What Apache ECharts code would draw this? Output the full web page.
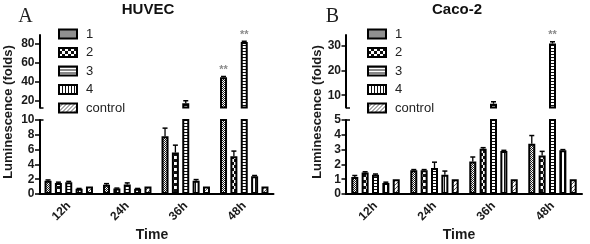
<!DOCTYPE html>
<html><head><meta charset="utf-8">
<script src="https://cdn.jsdelivr.net/npm/echarts@6/dist/echarts.min.js"></script>
<style>html,body{margin:0;padding:0;background:#fff}#c{width:590px;height:244px}</style>
</head><body><div id="c"></div>
<script>
// ---------- data ----------
const categories = ['12h', '24h', '36h', '48h'];
const seriesNames = ['1', '2', '3', '4', 'control'];

// Panel A: HUVEC
const huvec1 = [1.8, 1.25, 7.8, 45];
const huvec2 = [1.5, 0.75, 5.6, 5.1];
const huvec3 = [1.6, 1.3, 17.5, 82];
const huvec4 = [0.7, 0.7, 1.8, 2.4];
const huvecCtrl = [1.0, 1.0, 1.0, 1.0];
const huvecErr1 = [0.1, 0.15, 1.1, 0.8];
const huvecErr2 = [0.1, 0.05, 1.0, 0.7];
const huvecErr3 = [0.1, 0.2, 2.5, 1.0];
const huvecErr4 = [0.05, 0.05, 0.15, 0.1];
const huvecErrCtrl = [0, 0, 0, 0];
const huvecStars = [[3, 0, '**'], [3, 2, '**']]; // [category index, series index, mark]
const huvecUpperTicks = [20, 40, 60, 80];

// Panel B: Caco-2
const caco1 = [1.15, 1.6, 2.2, 3.4];
const caco2 = [1.45, 1.6, 3.05, 2.6];
const caco3 = [1.3, 1.75, 6.5, 31];
const caco4 = [0.75, 1.3, 2.9, 2.95];
const cacoCtrl = [1.0, 1.0, 1.0, 1.0];
const cacoErr1 = [0.1, 0.05, 0.3, 0.55];
const cacoErr2 = [0.05, 0.05, 0.08, 0.28];
const cacoErr3 = [0.05, 0.4, 0.8, 0.8];
const cacoErr4 = [0.05, 0.25, 0.05, 0.05];
const cacoErrCtrl = [0, 0, 0, 0];
const cacoStars = [[3, 2, '**']];
const cacoUpperTicks = [10, 20, 30];

// ---------- styling ----------
const FONT = '"Liberation Sans", Arial, sans-serif';
const SERIF = '"Liberation Serif", "Times New Roman", serif';
const BAR_W = 7;
const BAR_GAP = 0.48;
const PITCH = BAR_W * (1 + BAR_GAP);

function pat(w, h, draw) {
  const c = document.createElement('canvas');
  c.width = w; c.height = h;
  const g = c.getContext('2d');
  g.fillStyle = '#fff'; g.fillRect(0, 0, w, h);
  draw(g);
  return { image: c, repeat: 'repeat' };
}
const patterns = [
  pat(2, 2, g => { g.fillStyle = '#222'; g.fillRect(0, 0, 1, 1); g.fillRect(1, 1, 1, 1); }),
  pat(6, 6, g => { g.fillStyle = '#111'; g.fillRect(0, 0, 6, 6); g.fillStyle = '#fff'; g.fillRect(0, 0, 3, 3); g.fillRect(3, 3, 3, 3); }),
  pat(1, 3, g => { g.fillStyle = '#111'; g.fillRect(0, 0, 1, 1); }),
  pat(3, 1, g => { g.fillStyle = '#111'; g.fillRect(0, 0, 1, 1); }),
  pat(4, 4, g => { g.fillStyle = '#555'; for (let i = 0; i < 4; i++) g.fillRect(i, 3 - i, 1, 1); })
];

const grids = [], xAxes = [], yAxes = [], series = [], legends = [], graphics = [];
const axisLineStyle = { color: '#000', width: 2 };
const tickStyle = { color: '#000', width: 1.5 };
const labelStyle = { fontSize: 12, fontWeight: 'bold', color: '#1a1a1a', fontFamily: FONT };

function errorSeries(xi, yi, values, errors, clip) {
  const data = [];
  values.forEach((arr, si) => arr.forEach((v, ci) => data.push([ci, si, v, errors[si][ci]])));
  return {
    type: 'custom', xAxisIndex: xi, yAxisIndex: yi, clip: clip, silent: true, animation: false,
    encode: { x: 0, y: 2 }, z: 5,
    data: data,
    renderItem: function (params, api) {
      const ci = api.value(0), si = api.value(1), v = api.value(2), e = api.value(3);
      if (!e) return null;
      const base = api.coord([ci, v]);
      const top = api.coord([ci, v + e]);
      const x = base[0] + (si - 2) * PITCH;
      return {
        type: 'group', children: [
          { type: 'line', shape: { x1: x, y1: base[1], x2: x, y2: top[1] }, style: { stroke: '#000', lineWidth: 1.3 } },
          { type: 'line', shape: { x1: x - 2.5, y1: top[1], x2: x + 2.5, y2: top[1] }, style: { stroke: '#000', lineWidth: 1.5 } }
        ]
      };
    }
  };
}

function addPanel(P) {
  const g = grids.length;
  grids.push({ left: P.left, width: P.width, top: 120, height: 74 });
  grids.push({ left: P.left, width: P.width, top: 35, height: 72.5 });
  const xi = xAxes.length;
  xAxes.push({
    type: 'category', data: categories, gridIndex: g,
    axisLine: { lineStyle: axisLineStyle },
    axisTick: { alignWithLabel: true, length: 5, lineStyle: tickStyle },
    axisLabel: Object.assign({ rotate: 45, margin: 10 }, labelStyle)
  });
  xAxes.push({ type: 'category', data: categories, gridIndex: g + 1, show: false });
  const yi = yAxes.length;
  yAxes.push({
    type: 'value', gridIndex: g, position: 'left', min: 0, max: P.lowerMax, interval: P.lowerInterval,
    axisLine: { show: true, lineStyle: axisLineStyle },
    axisTick: { show: true, length: 4.5, lineStyle: tickStyle },
    axisLabel: Object.assign({ margin: 5 }, labelStyle),
    splitLine: { show: false }
  });
  yAxes.push({
    type: 'value', gridIndex: g + 1, position: 'left', min: P.upperMin, max: P.upperMax,
    axisLine: { show: true, lineStyle: axisLineStyle },
    axisTick: { show: true, length: 4.5, lineStyle: tickStyle, customValues: P.upperTicks },
    axisLabel: Object.assign({ margin: 5, customValues: P.upperTicks }, labelStyle),
    splitLine: { show: false }
  });
  // break marks
  yAxes.push({
    type: 'value', gridIndex: g, position: 'left', offset: 0, min: 0, max: P.lowerMax,
    axisLine: { show: false }, axisLabel: { show: false }, splitLine: { show: false },
    axisTick: { show: true, inside: true, length: 4, lineStyle: tickStyle, customValues: [P.lowerMax] }
  });
  yAxes.push({
    type: 'value', gridIndex: g + 1, position: 'left', offset: 0, min: P.upperMin, max: P.upperMax,
    axisLine: { show: false }, axisLabel: { show: false }, splitLine: { show: false },
    axisTick: { show: true, inside: true, length: 4, lineStyle: tickStyle, customValues: [P.upperMin] }
  });

  P.values.forEach((arr, i) => {
    const common = {
      type: 'bar', name: seriesNames[i], barWidth: BAR_W, barGap: (BAR_GAP * 100) + '%',
      itemStyle: { color: patterns[i], borderColor: '#000', borderWidth: 2 },
      clip: true, animation: false, silent: true
    };
    series.push(Object.assign({}, common, { xAxisIndex: xi, yAxisIndex: yi, data: arr }));
    series.push(Object.assign({}, common, {
      xAxisIndex: xi + 1, yAxisIndex: yi + 1,
      data: arr.map(v => (v > P.upperMin ? v : '-'))
    }));
  });
  series.push(errorSeries(xi, yi, P.values, P.errors, true));
  series.push(errorSeries(xi + 1, yi + 1, P.values, P.errors, true));
  // significance stars
  series.push({
    type: 'custom', xAxisIndex: xi + 1, yAxisIndex: yi + 1, clip: false, silent: true, animation: false,
    encode: { x: 0, y: 1 }, z: 6,
    data: P.stars.map(s => [s[0], P.values[s[1]][s[0]] + P.errors[s[1]][s[0]], s[1], s[2]]),
    renderItem: function (params, api) {
      const p = api.coord([api.value(0), api.value(1)]);
      const x = p[0] + (api.value(2) - 2) * PITCH;
      return {
        type: 'text', x: x, y: p[1] - 1,
        style: { text: P.stars[params.dataIndex][2], fill: '#8a8a8a', font: 'bold 11px ' + FONT, textAlign: 'center', textVerticalAlign: 'bottom' }
      };
    }
  });

  legends.push({
    data: seriesNames, orient: 'vertical', left: P.legendLeft, top: 27, padding: 0,
    icon: 'rect', itemWidth: 18, itemHeight: 9, itemGap: 4.5, selectedMode: false,
    itemStyle: { borderColor: '#000', borderWidth: 2 },
    textStyle: { fontSize: 13, color: '#222', fontFamily: FONT, lineHeight: 14, padding: [0, 0, 0, 4] }
  });

  graphics.push(
    { type: 'text', x: P.letterX, y: 17, style: { text: P.letter, font: '20px ' + SERIF, fill: '#222', textAlign: 'center', textVerticalAlign: 'middle' } },
    { type: 'text', x: P.titleX, y: 10, style: { text: P.title, font: 'bold 15px ' + FONT, fill: '#111', textAlign: 'center', textVerticalAlign: 'middle' } },
    { type: 'text', x: P.yNameX, y: 112, rotation: Math.PI / 2, style: { text: 'Luminescence (folds)', font: 'bold 13px ' + FONT, fill: '#1a1a1a', textAlign: 'center', textVerticalAlign: 'middle' } },
    { type: 'text', x: P.timeX, y: 235, style: { text: 'Time', font: 'bold 14px ' + FONT, fill: '#1a1a1a', textAlign: 'center', textVerticalAlign: 'middle' } }
  );
}

addPanel({
  left: 39.5, width: 234, lowerMax: 10, lowerInterval: 2, upperMin: 13, upperMax: 89.5,
  upperTicks: huvecUpperTicks,
  values: [huvec1, huvec2, huvec3, huvec4, huvecCtrl],
  errors: [huvecErr1, huvecErr2, huvecErr3, huvecErr4, huvecErrCtrl],
  stars: huvecStars, legendLeft: 58,
  letter: 'A', letterX: 25.5, title: 'HUVEC', titleX: 148, yNameX: 8.5, timeX: 152
});
addPanel({
  left: 346, width: 236, lowerMax: 5, lowerInterval: 1, upperMin: 5, upperMax: 34.5,
  upperTicks: cacoUpperTicks,
  values: [caco1, caco2, caco3, caco4, cacoCtrl],
  errors: [cacoErr1, cacoErr2, cacoErr3, cacoErr4, cacoErrCtrl],
  stars: cacoStars, legendLeft: 367,
  letter: 'B', letterX: 332.5, title: 'Caco-2', titleX: 457, yNameX: 317, timeX: 459
});

const chart = echarts.init(document.getElementById('c'), null, { renderer: 'canvas' });
chart.setOption({
  backgroundColor: '#fff',
  animation: false,
  grid: grids, xAxis: xAxes, yAxis: yAxes, legend: legends, series: series,
  graphic: graphics
});
</script></body></html>
